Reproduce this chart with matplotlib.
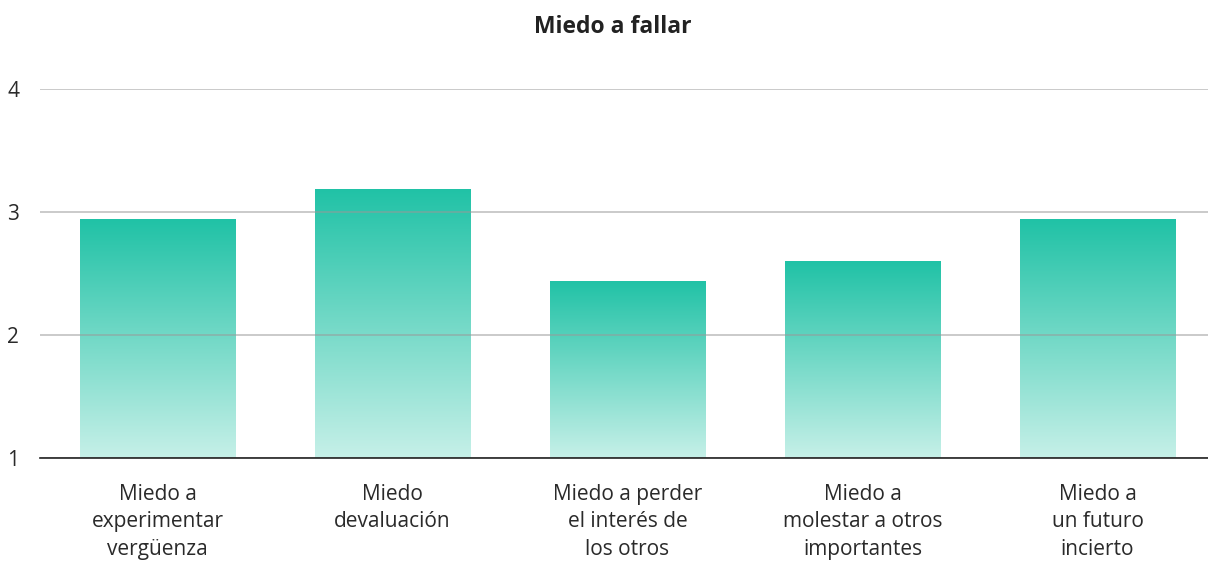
import numpy as np
from matplotlib import pyplot as plt
from matplotlib.colors import LinearSegmentedColormap

plt.rcParams["font.family"] = ["Open Sans", "DejaVu Sans"]

# Data
categories = [
    "Miedo a\nexperimentar\nvergüenza",
    "Miedo\ndevaluación",
    "Miedo a perder\nel interés de\nlos otros",
    "Miedo a\nmolestar a otros\nimportantes",
    "Miedo a\nun futuro\nincierto",
]
values = [2.94, 3.19, 2.44, 2.60, 2.94]
yticks = [1, 2, 3, 4]

fig = plt.figure(figsize=(12.08, 5.61), dpi=100)
ax = fig.add_axes([40 / 1208, 1 - 458 / 561, 1175 / 1208, 369 / 561])

cmap = LinearSegmentedColormap.from_list("teal", ["#c6f0e8", "#20c2a6"])
grad = np.linspace(0, 1, 256).reshape(-1, 1)

x = np.arange(len(values))
bars = ax.bar(x, [v - 1 for v in values], bottom=1, width=0.66, color="none", edgecolor="none")
for b in bars:
    x0, y0 = b.get_x(), b.get_y()
    im = ax.imshow(grad, cmap=cmap, origin="lower", aspect="auto",
                   extent=[x0, x0 + b.get_width(), y0, y0 + b.get_height()], zorder=1)
    im.set_clip_path(b)

ax.set_xlim(-0.5, 4.5)
ax.set_ylim(1, 4)
ax.set_yticks(yticks)
ax.set_xticks(x)
ax.set_xticklabels(categories, fontsize=15, color="#2a2a2a", linespacing=1.38)
ax.tick_params(axis="y", length=0, pad=15, labelsize=15, labelcolor="#2a2a2a")
ax.tick_params(axis="x", length=0, pad=19)

ax.grid(axis="y", color="#999999", alpha=0.6, linewidth=1.2, zorder=2)
ax.set_axisbelow(False)
for s in ["top", "right", "left"]:
    ax.spines[s].set_visible(False)
ax.spines["bottom"].set_color("#222222")
ax.spines["bottom"].set_linewidth(1.2)
ax.spines["bottom"].set_zorder(3)

fig.text(613 / 1208, 1 - 27 / 561, "Miedo a fallar", ha="center", va="center",
         fontsize=16.5, fontweight="bold", color="#222222")

fig.savefig("out.png", dpi=100)
